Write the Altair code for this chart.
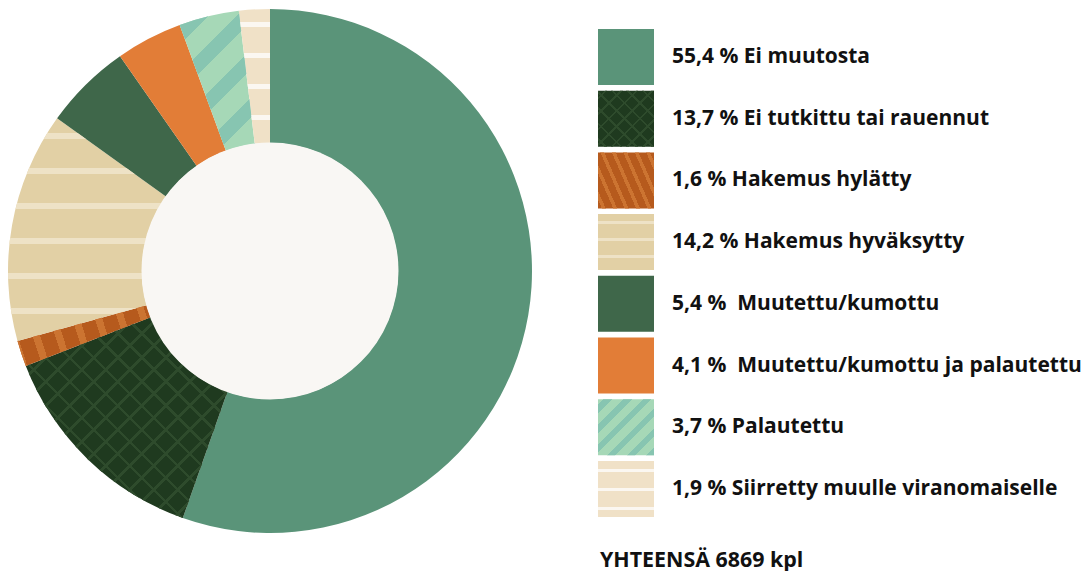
import numpy as np
import altair as alt
import pandas as pd

categories = [
    "Ei muutosta",
    "Ei tutkittu tai rauennut",
    "Hakemus hylätty",
    "Hakemus hyväksytty",
    "Muutettu/kumottu",
    "Muutettu/kumottu ja palautettu",
    "Palautettu",
    "Siirretty muulle viranomaiselle",
]
shares = [55.4, 13.7, 1.6, 14.2, 5.4, 4.1, 3.7, 1.9]
share_labels = ["55,4 %", "13,7 %", "1,6 %", "14,2 %", "5,4 %\u00a0", "4,1 %\u00a0", "3,7 %", "1,9 %"]
colors = ["#5A9479", "#1F3A1F", "#B65A1D", "#E2D0A5", "#3F674A", "#E27D37", "#A6D8B7", "#F0E1C7"]
total_label = ["YHTEENSÄ 6869 kpl"]

labels = [f"{p} {c}" for p, c in zip(share_labels, categories)]
idx = list(range(len(labels)))
df = pd.DataFrame({"label": labels, "share": shares, "idx": idx})

# ---- layout / style ----
W, H = 1075, 563
CX, CY = 262, 263
R_OUT, R_IN = 262, 128
FONT = "Open Sans"
LEG_X, LEG_Y0, SW, GAP = 590, 21, 56, 5.7
TOTAL = float(sum(shares))
CLEAR = "rgba(0,0,0,0)"

cum = np.cumsum(shares)
starts = cum - np.array(shares)


def arc_bbox(i):
    a = np.linspace(2 * np.pi * starts[i] / TOTAL, 2 * np.pi * cum[i] / TOTAL, 600)
    xs = np.concatenate([R_IN * np.sin(a), R_OUT * np.sin(a)])
    ys = np.concatenate([-R_IN * np.cos(a), -R_OUT * np.cos(a)])
    return float(np.ptp(xs)), float(np.ptp(ys))


def stripes(w, h, d, period, width, color):
    dx, dy = d
    nrm = float(np.hypot(dx, dy))
    dx, dy = dx / nrm, dy / nrm
    extent = abs(dx) * w + abs(dy) * h
    n = int(np.ceil(extent / period)) + 1
    D = n * period
    c = D / (dx * dx * w * w + dy * dy * h * h)
    u1 = 0.0 if dx >= 0 else 1.0
    v1 = 0.0 if dy >= 0 else 1.0
    f = width / period
    stops = [{"offset": 0.0, "color": CLEAR}]
    for k in range(n):
        a = (k + 0.5 - f / 2) / n
        b = (k + 0.5 + f / 2) / n
        stops += [
            {"offset": a, "color": CLEAR},
            {"offset": a, "color": color},
            {"offset": b, "color": color},
            {"offset": b, "color": CLEAR},
        ]
    stops.append({"offset": 1.0, "color": CLEAR})
    return {
        "gradient": "linear",
        "x1": u1, "y1": v1,
        "x2": u1 + c * dx * w, "y2": v1 + c * dy * h,
        "stops": stops,
    }


def radial_dir(i):
    a = 2 * np.pi * (starts[i] + cum[i]) / 2 / TOTAL
    return (float(np.sin(a)), float(-np.cos(a)))


# pattern specs: index -> list of (direction, period, width, color) for slice / swatch
slice_patterns = {
    1: [((1, 1), 17, 2.6, "#2E4B2C"), ((1, -1), 17, 2.6, "#2E4B2C")],
    2: [(radial_dir(2), 21.5, 7, "#CC7431")],
    3: [((0, 1), 35, 5.5, "#EEE2C6")],
    6: [((1, 1), 34, 14, "#87C5B1")],
    7: [((0, 1), 31, 5.5, "#FBF7F1")],
}
swatch_patterns = {
    1: [((1, 1), 11, 1.8, "#2E4B2C"), ((1, -1), 11, 1.8, "#2E4B2C")],
    2: [((0.92, -0.4), 10.5, 3.5, "#CC7431")],
    3: [((0, 1), 17, 3, "#EEE2C6")],
    6: [((1, 1), 14, 6, "#87C5B1")],
    7: [((0, 1), 19, 3.5, "#FBF7F1")],
}

theta_scale = alt.Scale(domain=[0, TOTAL])
stacked = (
    alt.Chart(df)
    .transform_window(cum="sum(share)", sort=[alt.SortField("idx")], frame=[None, 0])
    .transform_calculate(start="datum.cum - datum.share")
)
theta_enc = dict(theta=alt.Theta("start:Q", scale=theta_scale), theta2=alt.Theta2("cum:Q"))

layers = []
layers.append(
    stacked.mark_arc(innerRadius=R_IN, outerRadius=R_OUT, x=CX, y=CY).encode(
        color=alt.Color("label:N", scale=alt.Scale(domain=labels, range=colors), legend=None),
        **theta_enc,
    )
)
for i, specs in slice_patterns.items():
    w, h = arc_bbox(i)
    for d, per, wid, col in specs:
        layers.append(
            stacked.transform_filter(f"datum.idx == {i}")
            .mark_arc(innerRadius=R_IN, outerRadius=R_OUT, x=CX, y=CY, fill=stripes(w, h, d, per, wid, col))
            .encode(**theta_enc)
        )

hole = alt.Chart(pd.DataFrame({"v": [TOTAL]})).mark_arc(
    radius=R_IN + 0.5, x=CX, y=CY, color="#F9F7F4"
).encode(theta=alt.Theta("v:Q", scale=theta_scale))
layers.append(hole)

# ---- legend built from the same categories ----
step = SW + GAP
p_in = GAP / step
y_scale = alt.Scale(domain=idx, range=[LEG_Y0, LEG_Y0 + step * (len(idx) - p_in)], paddingInner=p_in, paddingOuter=0)
y_enc = alt.Y("idx:O", scale=y_scale, axis=None)

legend_base = alt.Chart(df)
layers.append(
    legend_base.mark_rect().encode(
        x=alt.value(LEG_X), x2=alt.value(LEG_X + SW), y=y_enc,
        color=alt.Color("label:N", scale=alt.Scale(domain=labels, range=colors), legend=None),
    )
)
for i, specs in swatch_patterns.items():
    for d, per, wid, col in specs:
        layers.append(
            legend_base.transform_filter(f"datum.idx == {i}")
            .mark_rect(fill=stripes(SW, SW, d, per, wid, col))
            .encode(x=alt.value(LEG_X), x2=alt.value(LEG_X + SW), y=y_enc)
        )

layers.append(
    legend_base.mark_text(
        align="left", baseline="middle", font=FONT, fontSize=21, fontWeight="bold", color="#111111"
    ).encode(x=alt.value(LEG_X + SW + 18), y=y_enc, text="label:N")
)

total = alt.Chart(pd.DataFrame({"t": total_label})).mark_text(
    align="left", baseline="alphabetic", font=FONT, fontSize=21.4, fontWeight="bold", color="#111111"
).encode(text="t:N", x=alt.value(592), y=alt.value(558.5))
layers.append(total)

chart = alt.layer(*layers).properties(
    width=W,
    height=H,
    padding=0,
    autosize=alt.AutoSizeParams(type="fit", contains="padding"),
).configure_view(stroke=None)

chart.save("out.html", embed_options={"renderer": "svg", "actions": False})
